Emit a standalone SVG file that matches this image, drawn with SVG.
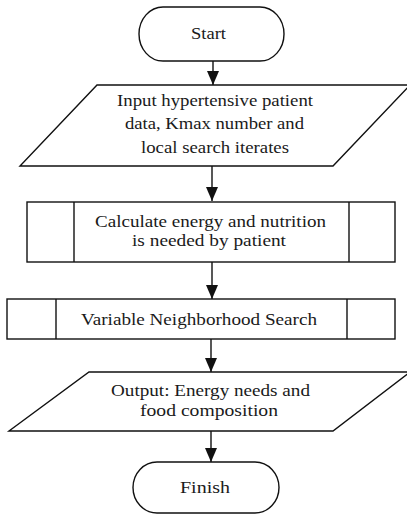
<svg xmlns="http://www.w3.org/2000/svg" width="407" height="514" viewBox="0 0 407 514">
<defs>
<style>
.s{fill:#fff;stroke:#111;stroke-width:1.4}
.l{fill:none;stroke:#111;stroke-width:1.4}
.t{font-family:"Liberation Serif","Times New Roman",serif;font-size:17px;fill:#1a1a1a;text-anchor:middle}
.c{fill:none;stroke:#111;stroke-width:1.4;marker-end:url(#ah)}
</style>
<marker id="ah" viewBox="0 0 14 12" refX="14" refY="6" markerWidth="14" markerHeight="12" markerUnits="userSpaceOnUse" orient="auto">
<path d="M0,0 L14,6 L0,12 Z" fill="#111"/>
</marker>
</defs>
<rect width="407" height="514" fill="#fff"/>
<g id="connectors">
<line class="c" x1="213" y1="61" x2="213" y2="85"/>
<line class="c" x1="212" y1="166" x2="212" y2="201"/>
<line class="c" x1="212" y1="262" x2="212" y2="299"/>
<line class="c" x1="211" y1="339" x2="211" y2="372"/>
<line class="c" x1="211" y1="431" x2="211" y2="462"/>
</g>
<g id="start">
<rect class="s" x="139" y="7" width="145" height="54" rx="24" ry="27"/>
<text class="t" x="208.5" y="39" textLength="35" lengthAdjust="spacingAndGlyphs">Start</text>
</g>
<g id="input">
<path class="s" d="M97,85 L410,85 L333,166 L20,166 Z"/>
<text class="t" x="215" y="106" textLength="196" lengthAdjust="spacingAndGlyphs">Input hypertensive patient</text>
<text class="t" x="214.5" y="129" textLength="179" lengthAdjust="spacingAndGlyphs">data, Kmax number and</text>
<text class="t" x="215" y="153" textLength="148" lengthAdjust="spacingAndGlyphs">local search iterates</text>
</g>
<g id="calculate">
<rect class="s" x="27" y="202" width="368" height="60"/>
<line class="l" x1="74" y1="202" x2="74" y2="262"/>
<line class="l" x1="349" y1="202" x2="349" y2="262"/>
<text class="t" x="210.5" y="227" textLength="231" lengthAdjust="spacingAndGlyphs">Calculate energy and nutrition</text>
<text class="t" x="209" y="246" textLength="154" lengthAdjust="spacingAndGlyphs">is needed by patient</text>
</g>
<g id="vns">
<rect class="s" x="7" y="299" width="388" height="40"/>
<line class="l" x1="56" y1="299" x2="56" y2="339"/>
<line class="l" x1="347" y1="299" x2="347" y2="339"/>
<text class="t" x="199" y="325" textLength="236" lengthAdjust="spacingAndGlyphs">Variable Neighborhood Search</text>
</g>
<g id="output">
<path class="s" d="M89,372 L410,372 L333,431 L9,431 Z"/>
<text class="t" x="210.5" y="396" textLength="199" lengthAdjust="spacingAndGlyphs">Output: Energy needs and</text>
<text class="t" x="209" y="416" textLength="138" lengthAdjust="spacingAndGlyphs">food composition</text>
</g>
<g id="finish">
<rect class="s" x="133" y="462" width="146" height="51" rx="24" ry="25.5"/>
<text class="t" x="205" y="493" textLength="50" lengthAdjust="spacingAndGlyphs">Finish</text>
</g>
</svg>
